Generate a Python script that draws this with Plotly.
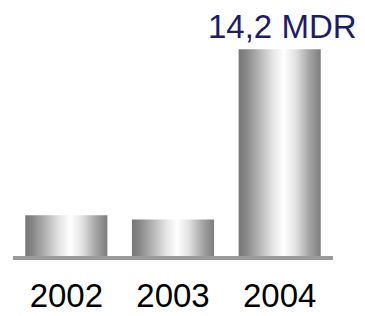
import plotly.graph_objects as go

years = ["2002", "2003", "2004"]
values = [2.8, 2.5, 14.2]
label_text = "14,2 MDR"

half_w = 0.385
gray_scale = [
    [0.0, "#777777"], [0.08, "#848484"], [0.25, "#b4b4b4"], [0.42, "#e6e6e6"],
    [0.55, "#ffffff"], [0.7, "#e0e0e0"], [0.85, "#a8a8a8"], [1.0, "#7c7c7c"],
]

fig = go.Figure()
for i, v in enumerate(values):
    xs = [i - half_w, i - half_w, i + half_w, i + half_w, i - half_w]
    ys = [0, v, v, 0, 0]
    fig.add_trace(go.Scatter(
        x=xs, y=ys, fill="toself", mode="lines", line=dict(width=0),
        fillgradient=dict(type="horizontal", colorscale=gray_scale),
        hoverinfo="skip", showlegend=False,
    ))

fig.add_annotation(
    x=len(values) - 1, y=values[-1], text=label_text, showarrow=False,
    xanchor="center", yanchor="bottom", yshift=2, xshift=3,
    font=dict(family="Liberation Sans, Arial, sans-serif", size=33, color="#1c1c6c"),
)

# page has an 8px body margin; figure sized to fit the 365x316 window
fig.update_layout(
    width=357, height=308,
    margin=dict(l=5, r=32, t=15, b=60, autoexpand=False),
    paper_bgcolor="white", plot_bgcolor="white",
    xaxis=dict(
        range=[-0.5, 2.5], tickvals=list(range(len(years))), ticktext=years,
        showgrid=False, zeroline=False, showline=True, linecolor="#9a9a9a", linewidth=3.5,
        ticks="", ticklabelstandoff=8, automargin=False,
        tickfont=dict(family="Liberation Sans, Arial, sans-serif", size=33, color="black"),
    ),
    yaxis=dict(range=[0, 16], visible=False),
)

fig.write_html("out.html")
